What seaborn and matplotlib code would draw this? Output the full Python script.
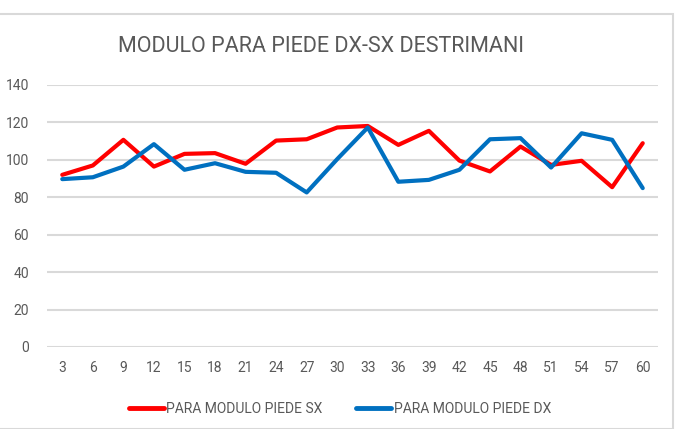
import matplotlib
matplotlib.use("Agg")
import matplotlib.pyplot as plt
from matplotlib.patches import Rectangle
from matplotlib.lines import Line2D
import seaborn as sns
import pandas as pd

# Misurazioni ogni 3 unità
giorni = [3, 6, 9, 12, 15, 18, 21, 24, 27, 30, 33, 36, 39, 42, 45, 48, 51, 54, 57, 60]
piede_sx = [92.0, 97.0, 110.7, 96.4, 103.2, 103.6, 97.9, 110.3, 111.0, 117.3,
            118.1, 108.0, 115.5, 99.6, 93.8, 107.1, 97.3, 99.5, 85.4, 108.9]
piede_dx = [89.7, 90.7, 96.4, 108.4, 94.7, 98.2, 93.6, 93.1, 82.6, 100.4,
            117.3, 88.3, 89.3, 94.7, 111.0, 111.6, 95.9, 114.2, 110.7, 84.9]
serie = ["PARA MODULO PIEDE SX", "PARA MODULO PIEDE DX"]
colori = ["#FF0000", "#0070C0"]
titolo = "MODULO PARA PIEDE DX-SX DESTRIMANI"
y_ticks = [0, 20, 40, 60, 80, 100, 120, 140]

df = pd.DataFrame({
    "giorno": [str(g) for g in giorni] * 2,
    "valore": piede_sx + piede_dx,
    "serie": [serie[0]] * len(giorni) + [serie[1]] * len(giorni),
})

sns.set_theme(style="white")
plt.rcParams["font.family"] = ["Roboto", "DejaVu Sans"]

grigio = "#595959"
fig = plt.figure(figsize=(6.75, 4.29), dpi=100)
ax = fig.add_axes([47 / 675, 1 - 347 / 429, 611 / 675, 262 / 429])

sns.lineplot(data=df, x="giorno", y="valore", hue="serie", hue_order=serie,
             palette=colori, linewidth=3.0, sort=False, ax=ax, legend=False)

ax.set_xlim(-0.5, len(giorni) - 0.5)
ax.set_ylim(0, 140)
ax.set_yticks(y_ticks)
ax.set_yticklabels([str(v) for v in y_ticks])
ax.yaxis.grid(True, color="#D9D9D9", linewidth=1.5)
ax.set_axisbelow(True)
for s in ax.spines.values():
    s.set_visible(False)
ax.tick_params(axis="both", length=0, labelsize=10, colors=grigio)
ax.tick_params(axis="y", pad=13)
ax.tick_params(axis="x", pad=10)
ax.set_xlabel("")
ax.set_ylabel("")

fig.text(321 / 675, 1 - 46 / 429, titolo, ha="center", va="center",
         fontsize=15.5, color=grigio)

# Legenda in basso
handles = [Line2D([0], [0], color=c, linewidth=3.5) for c in colori]
leg = fig.legend(handles, serie, loc="center", bbox_to_anchor=(340 / 675, 1 - 409 / 429),
                 ncol=2, frameon=False, fontsize=10, handlelength=2.5,
                 handletextpad=0.2, columnspacing=2.4)
for t in leg.get_texts():
    t.set_color(grigio)

# Cornice dell'area del grafico
fig.patches.append(Rectangle((-0.01, 0.0), 1 - 1.5 / 675 + 0.01, 1 - 14 / 429,
                             transform=fig.transFigure, fill=False,
                             edgecolor="#D9D9D9", linewidth=1.5))

fig.savefig("out.png", dpi=100)
